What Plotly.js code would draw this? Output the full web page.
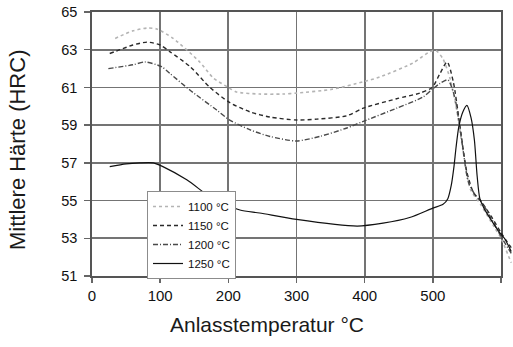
<!DOCTYPE html>
<html>
<head>
<meta charset="utf-8">
<script src="https://cdn.plot.ly/plotly-3.0.1.min.js"></script>
<style>html,body{margin:0;padding:0;background:#fff;}#chart{width:513px;height:347px;}</style>
</head>
<body>
<div id="chart"></div>
<script>
// Series names
const seriesNames = ['1100 °C', '1150 °C', '1200 °C', '1250 °C'];

// Anlasstemperatur (°C) and mean hardness (HRC) per austenitizing temperature
const x1100 = [34, 60, 81, 95, 119, 158, 178, 200, 212, 246, 280, 300, 352, 398, 422, 471, 496, 505, 515, 525, 535, 545, 555, 570, 590, 600, 615];
const y1100 = [63.6, 64.0, 64.15, 64.1, 63.6, 62.35, 61.5, 61.0, 60.76, 60.65, 60.65, 60.7, 60.9, 61.3, 61.55, 62.3, 62.9, 62.95, 62.5, 61.5, 59.8, 57.5, 55.6, 54.8, 53.6, 53.0, 51.7];

const x1150 = [26, 41, 60, 81, 100, 114, 144, 173, 202, 232, 261, 300, 330, 374, 398, 447, 481, 499, 510, 521, 530, 540, 550, 560, 570, 585, 600, 615];
const y1150 = [62.8, 63.0, 63.25, 63.4, 63.25, 62.9, 62.1, 61.0, 60.2, 59.7, 59.43, 59.27, 59.32, 59.5, 59.9, 60.4, 60.7, 61.0, 61.7, 62.35, 61.3, 58.9, 56.5, 55.4, 55.0, 54.2, 53.3, 52.5];

const x1200 = [24, 60, 78, 102, 114, 144, 183, 202, 232, 261, 300, 334, 374, 398, 447, 486, 499, 510, 522, 532, 542, 552, 562, 572, 585, 600, 615];
const y1200 = [62.0, 62.2, 62.35, 62.1, 61.75, 60.85, 59.8, 59.27, 58.75, 58.4, 58.16, 58.4, 58.85, 59.2, 59.9, 60.5, 60.9, 61.2, 61.4, 60.5, 58.3, 56.0, 55.3, 54.9, 54.1, 53.1, 52.2];

const x1250 = [26, 50, 70, 90, 104, 139, 169, 183, 217, 246, 300, 389, 427, 466, 500, 515, 522, 527, 531, 534, 538, 544, 550, 556, 561, 565, 569, 575, 585, 598, 605, 615];
const y1250 = [56.8, 56.95, 57.0, 57.0, 56.8, 56.1, 55.3, 55.0, 54.5, 54.34, 54.0, 53.65, 53.8, 54.1, 54.6, 54.8, 55.1, 55.8, 56.8, 57.8, 58.9, 59.7, 60.05, 59.4, 58.2, 56.3, 55.1, 54.6, 54.0, 53.3, 53.0, 52.3];

// Tick labels
const xTicks = [0, 100, 200, 300, 400, 500, 600];
const yTicks = [51, 53, 55, 57, 59, 61, 63, 65];

const FONT = 'Liberation Sans, Arial, sans-serif';
const W = 513, H = 347;
const plotL = 92, plotR = 501, plotT = 12, plotB = 276;
const xMax = 600;
const xMax2 = xMax * (W - plotL) / (plotR - plotL);

function mk(x, y, name, color, dash, width) {
  return {
    x: x, y: y, name: name, type: 'scatter', mode: 'lines',
    xaxis: 'x2', yaxis: 'y2',
    line: {color: color, dash: dash, width: width, shape: 'spline', smoothing: 0.7},
    hoverinfo: 'skip'
  };
}

const traces = [
  // empty trace so the framed grid subplot (x/y) is drawn
  {x: [], y: [], type: 'scatter', mode: 'lines', xaxis: 'x', yaxis: 'y', showlegend: false, hoverinfo: 'skip'},
  mk(x1100, y1100, seriesNames[0], '#b4b4b4', 'dot', 1.6),
  mk(x1150, y1150, seriesNames[1], '#2a2a2a', '4px,3px', 1.4),
  mk(x1200, y1200, seriesNames[2], '#4a4a4a', '5px,2px,1px,2px', 1.4),
  mk(x1250, y1250, seriesNames[3], '#111111', 'solid', 1.2)
];

const xDom = [plotL / W, plotR / W];
const yDom = [(H - plotB) / H, (H - plotT) / H];

const layout = {
  width: W, height: H,
  margin: {l: 0, r: 0, t: 0, b: 0, pad: 0},
  paper_bgcolor: '#ffffff',
  plot_bgcolor: 'rgba(0,0,0,0)',
  font: {family: FONT, color: '#111', size: 14},
  showlegend: true,
  xaxis: {
    domain: xDom, range: [0, xMax], anchor: 'y',
    tickvals: xTicks, ticktext: xTicks.map(String),
    showgrid: true, gridcolor: '#747474', gridwidth: 1.8,
    zeroline: false,
    showline: true, mirror: true, linecolor: '#555555', linewidth: 1.8,
    ticks: 'outside', ticklen: 5, tickcolor: '#666666', tickwidth: 1.5,
    tickfont: {family: FONT, size: 15, color: '#111'},
    fixedrange: true
  },
  yaxis: {
    domain: yDom, range: [51, 65], anchor: 'x',
    tickvals: yTicks, ticktext: yTicks.map(String),
    showgrid: true, gridcolor: '#747474', gridwidth: 1.8,
    zeroline: false,
    showline: true, mirror: true, linecolor: '#555555', linewidth: 1.8,
    ticks: 'outside', ticklen: 6, tickcolor: '#666666', tickwidth: 1.5,
    ticklabelstandoff: 4,
    tickfont: {family: FONT, size: 14.5, color: '#111'},
    fixedrange: true
  },
  xaxis2: {
    domain: [plotL / W, 1], range: [0, xMax2], anchor: 'y2',
    visible: false, fixedrange: true
  },
  yaxis2: {
    domain: yDom, range: [51, 65], anchor: 'x2',
    visible: false, fixedrange: true
  },
  legend: {
    x: 147 / W, xref: 'paper', xanchor: 'left',
    y: (H - 191) / H, yref: 'paper', yanchor: 'top',
    bgcolor: '#ffffff', bordercolor: '#8c8c8c', borderwidth: 1,
    font: {family: FONT, size: 11.5, color: '#111'},
    itemwidth: 30,
    tracegroupgap: 0
  },
  annotations: [
    {text: 'Anlasstemperatur °C', xref: 'paper', yref: 'paper',
     x: 267 / W, y: (H - 324) / H, xanchor: 'center', yanchor: 'middle',
     showarrow: false, font: {family: FONT, size: 21, color: '#1a1a1a'}},
    {text: 'Mittlere Härte (HRC)', xref: 'paper', yref: 'paper',
     x: 17 / W, y: (H - 150) / H, xanchor: 'center', yanchor: 'middle',
     textangle: -90,
     showarrow: false, font: {family: FONT, size: 22, color: '#1a1a1a'}}
  ]
};

Plotly.newPlot('chart', traces, layout, {displayModeBar: false, staticPlot: true});
</script>
</body>
</html>
